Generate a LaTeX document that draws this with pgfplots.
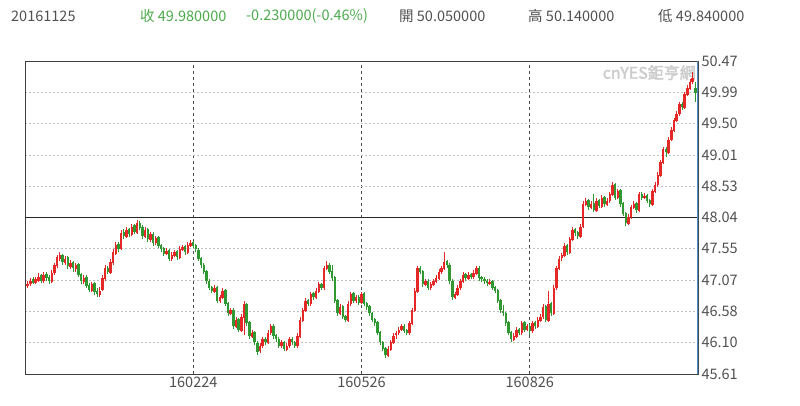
\documentclass[border=0pt]{standalone}
\usepackage{fontspec}
\setmainfont{Noto Sans CJK TC}
\newfontfamily\wm[FakeBold=2.5]{Noto Sans CJK TC}
\usepackage{pgfplots}
\pgfplotsset{compat=1.18}
\usepackage{pgfplotstable}
\definecolor{upred}{RGB}{228,40,40}
\definecolor{dngreen}{RGB}{48,152,48}
\definecolor{txtgray}{RGB}{80,80,80}
\definecolor{txtgreen}{RGB}{76,170,76}
\definecolor{rborder}{RGB}{80,140,200}

\pgfplotstableread{
i o h l c
0 46.97 47.05 46.95 47.00
1 47.00 47.10 46.98 47.05
2 47.08 47.12 47.00 47.03
3 47.02 47.12 47.00 47.08
4 47.06 47.18 47.04 47.12
5 47.14 47.16 47.02 47.06
6 47.05 47.20 47.03 47.15
7 47.17 47.19 47.06 47.10
8 47.12 47.14 47.00 47.05
9 47.04 47.22 47.02 47.18
10 47.18 47.34 47.15 47.30
11 47.28 47.46 47.26 47.42
12 47.40 47.50 47.36 47.45
13 47.46 47.48 47.30 47.35
14 47.33 47.44 47.30 47.40
15 47.42 47.44 47.24 47.28
16 47.27 47.38 47.24 47.33
17 47.35 47.37 47.20 47.25
18 47.24 47.34 47.20 47.30
19 47.32 47.34 47.12 47.15
20 47.16 47.18 47.00 47.05
21 47.04 47.14 47.01 47.10
22 47.12 47.14 46.94 46.98
23 46.99 47.02 46.88 46.92
24 46.90 47.04 46.88 47.00
25 47.02 47.04 46.84 46.88
26 46.90 46.95 46.80 46.85
27 46.84 46.96 46.81 46.90
28 46.92 47.14 46.90 47.10
29 47.08 47.30 47.06 47.25
30 47.26 47.29 47.16 47.20
31 47.18 47.40 47.16 47.35
32 47.33 47.55 47.31 47.50
33 47.48 47.66 47.46 47.62
34 47.63 47.66 47.51 47.55
35 47.55 47.84 47.53 47.80
36 47.82 47.86 47.70 47.75
37 47.74 47.90 47.72 47.85
38 47.86 47.88 47.73 47.78
39 47.77 47.94 47.75 47.90
40 47.92 47.94 47.78 47.82
41 47.80 48.00 47.78 47.95
42 47.96 47.98 47.84 47.88
43 47.89 47.92 47.70 47.75
44 47.74 47.90 47.72 47.85
45 47.86 47.88 47.66 47.70
46 47.69 47.82 47.66 47.78
47 47.79 47.81 47.60 47.65
48 47.64 47.76 47.62 47.72
49 47.73 47.75 47.56 47.60
50 47.61 47.63 47.50 47.55
51 47.56 47.58 47.44 47.48
52 47.47 47.56 47.45 47.52
53 47.53 47.55 47.36 47.40
54 47.39 47.50 47.37 47.45
55 47.44 47.54 47.42 47.50
56 47.52 47.54 47.38 47.42
57 47.41 47.59 47.39 47.55
58 47.54 47.62 47.52 47.58
59 47.59 47.61 47.46 47.50
60 47.49 47.66 47.47 47.62
61 47.60 47.69 47.58 47.65
62 47.66 47.68 47.56 47.60
63 47.61 47.63 47.50 47.55
64 47.54 47.56 47.36 47.40
65 47.41 47.43 47.26 47.30
66 47.31 47.33 47.16 47.20
67 47.21 47.23 47.01 47.05
68 47.06 47.08 46.91 46.95
69 46.96 46.98 46.86 46.90
70 46.88 46.99 46.86 46.95
71 46.96 46.98 46.71 46.75
72 46.74 46.84 46.72 46.80
73 46.79 46.94 46.77 46.90
74 46.91 46.93 46.66 46.70
75 46.71 46.73 46.51 46.55
76 46.54 46.64 46.52 46.60
77 46.61 46.63 46.31 46.35
78 46.34 46.49 46.32 46.45
79 46.46 46.48 46.26 46.30
80 46.28 46.54 46.26 46.50
81 46.48 46.74 46.22 46.70
82 46.69 46.71 46.36 46.40
83 46.41 46.43 46.16 46.20
84 46.19 46.29 46.17 46.25
85 46.26 46.28 46.06 46.10
86 46.09 46.12 45.91 45.95
87 45.96 46.09 45.94 46.05
88 46.04 46.19 46.02 46.15
89 46.16 46.18 46.06 46.10
90 46.09 46.29 46.07 46.25
91 46.24 46.39 46.22 46.35
92 46.36 46.38 46.16 46.20
93 46.21 46.23 46.11 46.15
94 46.16 46.18 46.01 46.05
95 46.04 46.14 46.02 46.10
96 46.11 46.13 45.96 46.00
97 45.99 46.09 45.97 46.05
98 46.04 46.19 46.02 46.15
99 46.16 46.18 46.06 46.10
100 46.11 46.13 46.01 46.05
101 46.04 46.24 46.02 46.20
102 46.19 46.49 46.17 46.45
103 46.44 46.64 46.42 46.60
104 46.59 46.79 46.57 46.75
105 46.76 46.78 46.66 46.70
106 46.69 46.89 46.67 46.85
107 46.86 46.88 46.76 46.80
108 46.79 46.94 46.77 46.90
109 46.89 47.04 46.87 47.00
110 47.01 47.03 46.91 46.95
111 46.94 47.29 46.92 47.25
112 47.24 47.36 47.22 47.30
113 47.31 47.33 47.16 47.20
114 47.21 47.30 47.06 47.10
115 47.11 47.13 46.71 46.75
116 46.76 46.78 46.51 46.55
117 46.54 46.69 46.52 46.65
118 46.66 46.68 46.46 46.50
119 46.51 46.53 46.41 46.45
120 46.44 46.74 46.42 46.70
121 46.69 46.89 46.67 46.85
122 46.86 46.88 46.71 46.75
123 46.74 46.84 46.72 46.80
124 46.81 46.83 46.68 46.72
125 46.71 46.89 46.69 46.85
126 46.86 46.88 46.66 46.70
127 46.71 46.73 46.61 46.65
128 46.66 46.68 46.51 46.55
129 46.56 46.58 46.41 46.45
130 46.46 46.48 46.36 46.40
131 46.41 46.43 46.21 46.25
132 46.26 46.28 46.06 46.10
133 46.11 46.13 45.96 46.00
134 46.01 46.03 45.86 45.90
135 45.89 46.04 45.87 46.00
136 45.99 46.14 45.97 46.10
137 46.09 46.24 46.07 46.20
138 46.21 46.28 46.15 46.25
139 46.24 46.34 46.22 46.30
140 46.29 46.39 46.27 46.35
141 46.36 46.38 46.24 46.28
142 46.29 46.31 46.21 46.25
143 46.24 46.44 46.22 46.40
144 46.39 46.64 46.37 46.60
145 46.59 46.94 46.57 46.90
146 46.89 47.29 46.87 47.25
147 47.26 47.28 47.16 47.20
148 47.21 47.23 46.96 47.00
149 46.99 47.09 46.97 47.05
150 47.06 47.08 46.91 46.95
151 46.94 47.04 46.92 47.00
152 46.99 47.09 46.97 47.05
153 47.04 47.14 47.02 47.10
154 47.09 47.24 47.07 47.20
155 47.19 47.29 47.17 47.25
156 47.24 47.50 47.22 47.35
157 47.36 47.38 47.26 47.30
158 47.31 47.33 47.01 47.05
159 47.06 47.08 46.76 46.80
160 46.79 46.89 46.77 46.85
161 46.84 46.99 46.82 46.95
162 46.94 47.09 46.92 47.05
163 47.04 47.19 47.02 47.15
164 47.16 47.18 47.06 47.10
165 47.09 47.19 47.07 47.15
166 47.16 47.18 47.08 47.12
167 47.11 47.22 47.09 47.18
168 47.17 47.29 47.15 47.25
169 47.26 47.28 47.06 47.10
170 47.11 47.13 47.04 47.08
171 47.09 47.11 47.01 47.05
172 47.06 47.08 46.98 47.02
173 47.01 47.08 46.99 47.04
174 47.05 47.07 46.91 46.95
175 46.96 46.98 46.86 46.90
176 46.91 46.93 46.71 46.75
177 46.76 46.78 46.56 46.60
178 46.59 46.68 46.51 46.55
179 46.56 46.58 46.36 46.40
180 46.41 46.43 46.21 46.25
181 46.26 46.28 46.11 46.15
182 46.14 46.24 46.12 46.20
183 46.19 46.34 46.17 46.30
184 46.31 46.33 46.21 46.25
185 46.24 46.44 46.22 46.40
186 46.41 46.43 46.26 46.30
187 46.29 46.39 46.27 46.35
188 46.36 46.38 46.22 46.28
189 46.27 46.44 46.25 46.40
190 46.41 46.43 46.31 46.35
191 46.34 46.49 46.32 46.45
192 46.44 46.54 46.42 46.50
193 46.49 46.69 46.47 46.65
194 46.66 46.68 46.41 46.45
195 46.44 46.90 46.42 46.70
196 46.71 46.73 46.51 46.55
197 46.54 46.99 46.52 46.95
198 46.94 47.29 46.92 47.25
199 47.24 47.44 47.22 47.40
200 47.41 47.49 47.36 47.45
201 47.44 47.64 47.42 47.60
202 47.61 47.63 47.46 47.50
203 47.49 47.74 47.47 47.70
204 47.69 47.89 47.67 47.85
205 47.86 47.88 47.76 47.80
206 47.81 47.83 47.71 47.75
207 47.74 47.94 47.72 47.90
208 47.89 48.29 47.87 48.25
209 48.24 48.34 48.22 48.30
210 48.31 48.33 48.16 48.20
211 48.19 48.29 48.17 48.25
212 48.26 48.40 48.12 48.15
213 48.14 48.34 48.12 48.30
214 48.31 48.33 48.18 48.22
215 48.21 48.39 48.19 48.35
216 48.36 48.38 48.21 48.25
217 48.24 48.34 48.22 48.30
218 48.29 48.44 48.27 48.40
219 48.39 48.59 48.37 48.55
220 48.56 48.58 48.31 48.35
221 48.34 48.49 48.32 48.45
222 48.46 48.48 48.21 48.25
223 48.26 48.28 48.06 48.10
224 48.11 48.13 47.91 47.95
225 47.94 48.09 47.92 48.05
226 48.04 48.24 48.02 48.20
227 48.19 48.29 48.17 48.25
228 48.26 48.28 48.11 48.15
229 48.14 48.44 48.12 48.40
230 48.41 48.43 48.31 48.35
231 48.34 48.42 48.32 48.38
232 48.39 48.41 48.26 48.30
233 48.31 48.33 48.21 48.25
234 48.24 48.49 48.22 48.45
235 48.44 48.59 48.42 48.55
236 48.54 48.74 48.52 48.70
237 48.69 48.94 48.67 48.90
238 48.89 49.14 48.87 49.10
239 49.11 49.13 48.98 49.05
240 49.04 49.29 49.02 49.25
241 49.24 49.44 49.22 49.40
242 49.39 49.59 49.37 49.55
243 49.54 49.69 49.52 49.65
244 49.64 49.84 49.62 49.80
245 49.81 49.83 49.71 49.75
246 49.74 49.99 49.72 49.95
247 49.94 50.09 49.92 50.05
248 50.04 50.19 50.02 50.15
249 50.14 50.30 50.12 50.21
250 50.05 50.14 49.84 49.98
}\data

\begin{document}
\begin{tikzpicture}[font=\fontsize{14.5bp}{16bp}\selectfont]
\path[use as bounding box] (0,0) rectangle (800bp,406bp);
\node[anchor=west, inner sep=0, text=txtgray] at (11bp,390bp) {20161125};
\node[anchor=west, inner sep=0, text=txtgreen] at (140bp,390bp) {收 49.980000};
\node[anchor=west, inner sep=0, text=txtgreen] at (246bp,390bp) {-0.230000(-0.46\%)};
\node[anchor=west, inner sep=0, text=txtgray] at (399bp,390bp) {開 50.050000};
\node[anchor=west, inner sep=0, text=txtgray] at (528bp,390bp) {高 50.140000};
\node[anchor=west, inner sep=0, text=txtgray] at (658bp,390bp) {低 49.840000};
\begin{axis}[
  at={(25bp,32bp)}, anchor=south west, scale only axis,
  width=673bp, height=313bp,
  xmin=-1, xmax=251, ymin=45.61, ymax=50.47,
  axis line style={draw=black!75, line width=0.9bp},
  xtick={62,125,188}, xticklabels={160224,160526,160826},
  xmajorgrids, x grid style={black!70, line width=0.7bp, dash pattern=on 3bp off 3bp},
  ytick={45.61,46.096,46.582,47.068,47.554,48.04,48.526,49.012,49.498,49.984,50.47},
  yticklabels={45.61,46.10,46.58,47.07,47.55,48.04,48.53,49.01,49.50,49.99,50.47},
  ymajorgrids, y grid style={black!25, line width=0.7bp, dash pattern=on 2bp off 2bp},
  yticklabel pos=right,
  tick style={draw=none},
  ticklabel style={text=txtgray, font=\fontsize{14.5bp}{16bp}\selectfont},
  yticklabel style={anchor=west, xshift=0bp},
  xticklabel style={yshift=1bp},
]
\node[anchor=east, inner sep=0, text=black!20, font=\wm\fontsize{16bp}{16bp}\selectfont] at (rel axis cs:0.997,0.963) {cnYES鉅亨網};
\draw[black!85, line width=0.8bp] (axis cs:-1,48.04) -- (axis cs:251,48.04);
% wicks
\addplot[draw=none, mark=none, forget plot,
  x filter/.expression={(\thisrow{c}<\thisrow{o}) ? nan : x},
  error bars/.cd, y dir=plus, y explicit, error mark=none,
  error bar style={draw=upred, line width=0.9bp}]
  table[x=i, y=l, y error plus expr=\thisrow{h}-\thisrow{l}] {\data};
\addplot[draw=none, mark=none, forget plot,
  x filter/.expression={(\thisrow{c}<\thisrow{o}) ? x : nan},
  error bars/.cd, y dir=plus, y explicit, error mark=none,
  error bar style={draw=dngreen, line width=0.9bp}]
  table[x=i, y=l, y error plus expr=\thisrow{h}-\thisrow{l}] {\data};
% bodies
\addplot[draw=none, mark=none, forget plot,
  x filter/.expression={(\thisrow{c}<\thisrow{o}) ? nan : x},
  error bars/.cd, y dir=plus, y explicit, error mark=none,
  error bar style={draw=upred, line width=2.4bp}]
  table[x=i, y expr={min(\thisrow{o},\thisrow{c})}, y error plus expr={max(abs(\thisrow{c}-\thisrow{o}),0.012)}] {\data};
\addplot[draw=none, mark=none, forget plot,
  x filter/.expression={(\thisrow{c}<\thisrow{o}) ? x : nan},
  error bars/.cd, y dir=plus, y explicit, error mark=none,
  error bar style={draw=dngreen, line width=2.4bp}]
  table[x=i, y expr={min(\thisrow{o},\thisrow{c})}, y error plus expr={max(abs(\thisrow{c}-\thisrow{o}),0.012)}] {\data};
\draw[rborder, line width=1.3bp] (rel axis cs:1,0) -- (rel axis cs:1,1);
\end{axis}
\end{tikzpicture}
\end{document}
